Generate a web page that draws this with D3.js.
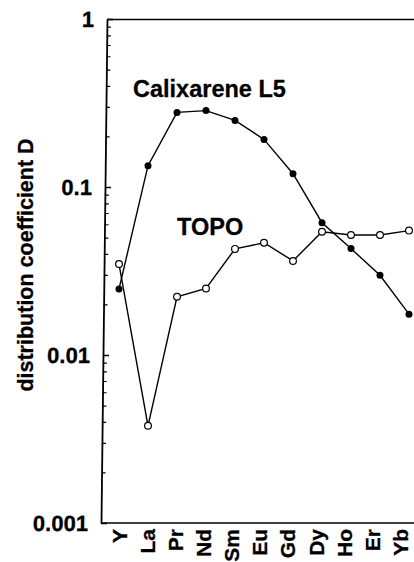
<!DOCTYPE html>
<html>
<head>
<meta charset="utf-8">
<script src="https://cdn.jsdelivr.net/npm/d3@7"></script>
<style>
  html, body { margin: 0; padding: 0; background: #fff; }
  svg { display: block; }
  text { font-family: "Liberation Sans", Arial, Helvetica, sans-serif; font-weight: bold; fill: #000; }
</style>
</head>
<body>
<svg id="chart" width="414" height="562"></svg>
<script>
// Elements along the x axis
const categories = ["Y", "La", "Pr", "Nd", "Sm", "Eu", "Gd", "Dy", "Ho", "Er", "Yb"];
// Distribution coefficients D for each extractant
const calixareneL5 = [0.0247, 0.134, 0.278, 0.285, 0.249, 0.192, 0.120, 0.0613, 0.0430, 0.0298, 0.0175];
const topo = [0.0348, 0.00379, 0.0222, 0.0249, 0.0428, 0.0466, 0.0363, 0.0542, 0.0518, 0.0518, 0.0550];
// Log axis decades and their labels
const majorTicks = [1, 0.1, 0.01, 0.001];
const majorLabels = ["1", "0.1", "0.01", "0.001"];
const minorMultipliers = [2, 3, 4, 5, 6, 7, 8, 9];

const svg = d3.select("#chart");

const plotTop = 19, plotBottom = 523, plotRight = 430;

const x = d3.scalePoint().domain(categories).range([119, 409]);
const xLabel = d3.scalePoint().domain(categories).range([118.5, 400]);
const y = d3.scaleLog().domain([0.001, 1]).range([plotBottom, plotTop]);

// frame: top and bottom rules
svg.append("line")
  .attr("x1", 107).attr("x2", plotRight).attr("y1", plotTop + 0.5).attr("y2", plotTop + 0.5)
  .attr("stroke", "#000").attr("stroke-width", 1.5);
svg.append("line")
  .attr("x1", 101).attr("x2", plotRight).attr("y1", plotBottom).attr("y2", plotBottom)
  .attr("stroke", "#000").attr("stroke-width", 1.6);

// left axis, leaning slightly as drawn on the original plot
const lean = -0.01193;
const leanDeg = Math.atan(lean) * 180 / Math.PI;
const yAxisG = svg.append("g")
  .attr("transform", `translate(${107 - lean * plotTop},0) skewX(${leanDeg})`);

const minorValues = [];
[0.001, 0.01, 0.1].forEach(d => minorMultipliers.forEach(m => minorValues.push(d * m)));

yAxisG.append("g")
  .call(d3.axisLeft(y).tickValues(minorValues).tickSize(-4).tickSizeOuter(0).tickFormat(""))
  .call(g => g.select(".domain").remove())
  .call(g => g.selectAll(".tick line").attr("stroke", "#000").attr("stroke-width", 1.2));

yAxisG.append("g")
  .call(d3.axisLeft(y).tickValues(majorTicks).tickSize(-6).tickSizeOuter(0).tickPadding(13)
    .tickFormat((d, i) => majorLabels[i]))
  .call(g => g.select(".domain").attr("stroke", "#000").attr("stroke-width", 1.8))
  .call(g => g.selectAll(".tick line").attr("stroke", "#000").attr("stroke-width", 1.4))
  .call(g => g.selectAll(".tick text")
    .attr("font-size", 22)
    .style("font-family", "'Liberation Sans', Arial, sans-serif")
    .style("font-weight", "bold")
    .attr("fill", "#000")
    .attr("stroke", "#000").attr("stroke-width", 0.3));

// category labels, rotated
svg.append("g")
  .attr("transform", `translate(0,${plotBottom})`)
  .call(d3.axisBottom(xLabel).tickSize(0).tickSizeOuter(0))
  .call(g => g.select(".domain").remove())
  .call(g => g.selectAll(".tick text")
    .attr("transform", "rotate(-90)")
    .attr("text-anchor", "end")
    .attr("x", -6)
    .attr("y", 0)
    .attr("dy", "0.36em")
    .attr("font-size", 21)
    .style("font-family", "'Liberation Sans', Arial, sans-serif")
    .style("font-weight", "bold")
    .attr("fill", "#000")
    .attr("stroke", "#000").attr("stroke-width", 0.3));

// axis title
svg.append("text")
  .attr("transform", "translate(33,265) rotate(-90)")
  .attr("text-anchor", "middle")
  .attr("font-size", 21.5)
  .attr("stroke", "#000").attr("stroke-width", 0.3)
  .text("distribution coefficient D");

// series
const line = d3.line().x((d, i) => x(categories[i])).y(d => y(d));

svg.append("path").datum(topo)
  .attr("d", line).attr("fill", "none").attr("stroke", "#000").attr("stroke-width", 1.4);
svg.append("path").datum(calixareneL5)
  .attr("d", line).attr("fill", "none").attr("stroke", "#000").attr("stroke-width", 1.4);

svg.append("g").selectAll("circle").data(calixareneL5).join("circle")
  .attr("cx", (d, i) => x(categories[i])).attr("cy", d => y(d)).attr("r", 3.5)
  .attr("fill", "#000");
svg.append("g").selectAll("circle").data(topo).join("circle")
  .attr("cx", (d, i) => x(categories[i])).attr("cy", d => y(d)).attr("r", 3.4)
  .attr("fill", "#fff").attr("stroke", "#000").attr("stroke-width", 1.2);

// series names
svg.append("text").attr("x", 133).attr("y", 97).attr("font-size", 23.5)
  .attr("stroke", "#000").attr("stroke-width", 0.3).text("Calixarene L5");
svg.append("text").attr("x", 177).attr("y", 234.5).attr("font-size", 23.5)
  .attr("stroke", "#000").attr("stroke-width", 0.3).text("TOPO");
</script>
</body>
</html>
